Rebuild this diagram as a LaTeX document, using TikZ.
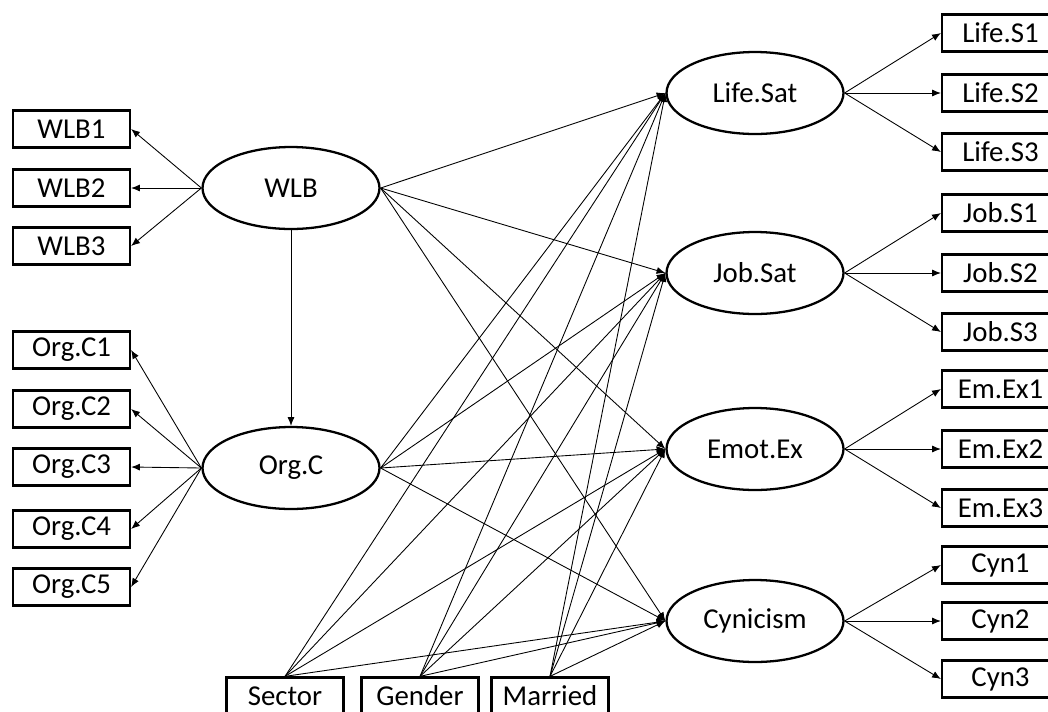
\documentclass[tikz,border=0pt]{standalone}
\usepackage{fontspec}
\setmainfont{Carlito}
\usetikzlibrary{shapes.geometric,arrows.meta}

\begin{document}
\begin{tikzpicture}[
	x=0.02cm, y=-0.02cm,
	every node/.style={font=\fontsize{16.4}{18}\selectfont, inner sep=0pt},
	lat/.style={ellipse, draw, line width=1.3pt, minimum width=3.54cm, minimum height=1.64cm},
	obs/.style={rectangle, draw, line width=1.3pt, minimum width=2.34cm, minimum height=0.74cm},
	reg/.style={draw, line width=0.5pt, -{Latex[length=5pt,width=4pt]}}
	]
	\useasboundingbox (0,0) rectangle (1048,711);
	
	% latente
	\node[lat] (wlb) at (291,188) {WLB};
	\node[lat] (orgc) at (291,468) {Org.C};
	\node[lat] (life) at (755,93) {Life.Sat};
	\node[lat] (job) at (755,273) {Job.Sat};
	\node[lat] (emot) at (755,449) {Emot.Ex};
	\node[lat] (cyn) at (755,621) {Cynicism};
	
	% wskazniki
	\foreach \i/\y in {1/129,2/188,3/246}
		\node[obs] (wlb\i) at (71.5,\y) {WLB\i};
	\foreach \i/\y in {1/350,2/409,3/467,4/529,5/587}
		\node[obs] (orgc\i) at (71.5,\y) {Org.C\i};
	\foreach \i/\y in {1/33,2/93,3/152}
		\node[obs] (life\i) at (1000.5,\y) {Life.S\i};
	\foreach \i/\y in {1/213,2/273,3/332}
		\node[obs] (job\i) at (1000.5,\y) {Job.S\i};
	\foreach \i/\y in {1/389,2/449,3/508}
		\node[obs] (emot\i) at (1000.5,\y) {Em.Ex\i};
	\foreach \i/\y in {1/565,2/621,3/679}
		\node[obs] (cyn\i) at (1000.5,\y) {Cyn\i};
	
	% zmienne kontrolne
	\node[obs] (sector) at (285,696) {Sector};
	\node[obs] (gender) at (420,696) {Gender};
	\node[obs] (married) at (550,696) {Married};
	
	% sciezki
	\foreach \i in {1,2,3}
		\draw[reg] (wlb.west) -- (wlb\i.east);
	\foreach \i in {1,...,5}
		\draw[reg] (orgc.west) -- (orgc\i.east);
	\foreach \t in {life,job,emot,cyn}
		\foreach \i in {1,2,3}
			\draw[reg] (\t.east) -- (\t\i.west);
	\draw[reg] (wlb.south) -- (orgc.north);
	\foreach \t in {life,job,emot,cyn} {
		\draw[reg] (wlb.east) -- (\t.west);
		\draw[reg] (orgc.east) -- (\t.west);
		\foreach \c in {sector,gender,married}
			\draw[reg] (\c.north) -- (\t.west);
	}
\end{tikzpicture}
\end{document}
